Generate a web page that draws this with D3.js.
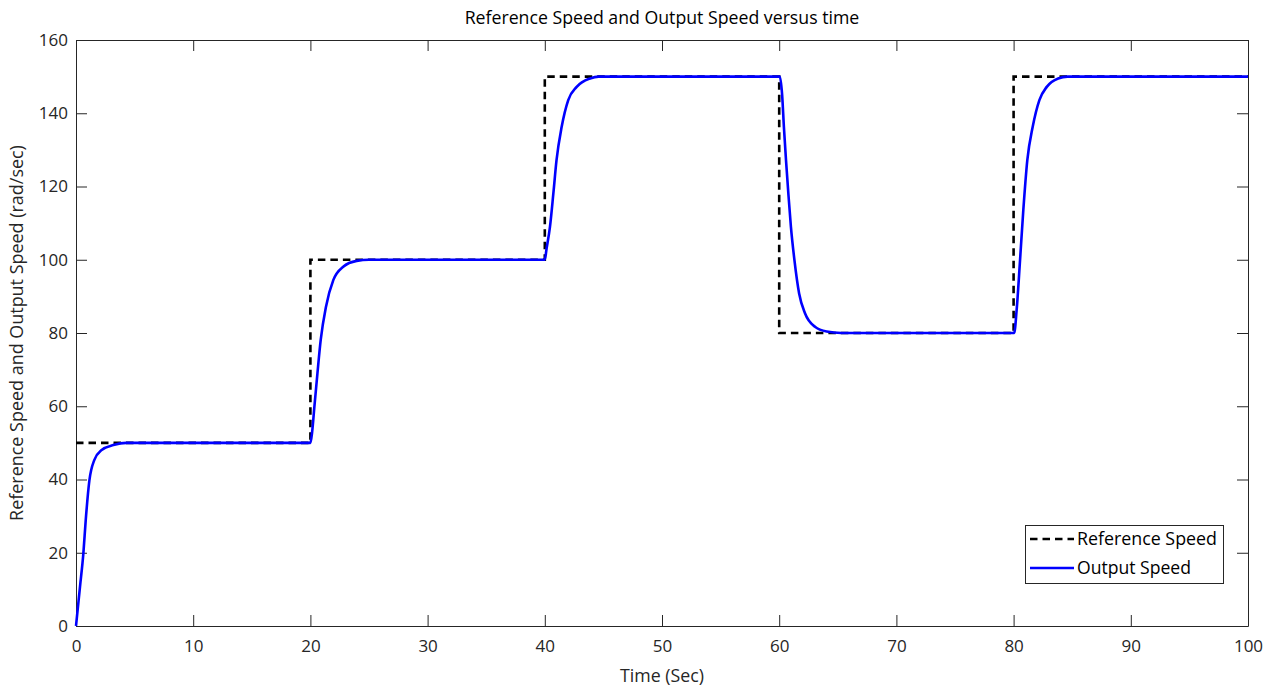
<!DOCTYPE html>
<html>
<head>
<meta charset="utf-8">
<script src="https://cdn.jsdelivr.net/npm/d3@7"></script>
<style>
  html, body { margin: 0; padding: 0; background: #fff; }
  svg { display: block; font-family: "Open Sans", "Noto Sans", sans-serif; }
</style>
</head>
<body>
<svg id="chart" width="1277" height="690"></svg>
<script>
// ---- Data ----
const titleText = "Reference Speed and Output Speed versus time";
const xLabelText = "Time (Sec)";
const yLabelText = "Reference Speed and Output Speed (rad/sec)";
const seriesNames = ["Reference Speed", "Output Speed"];

const xTicks = [0, 10, 20, 30, 40, 50, 60, 70, 80, 90, 100];
const yTicks = [0, 20, 40, 60, 80, 100, 120, 140, 160];

// Reference speed: step changes
const refTimes = [0, 20, 40, 60, 80, 100];
const refValues = [50, 100, 150, 80, 150, 150];

// Output speed samples
const outTimes = [
  0, 0.34, 0.63, 0.83, 1.14, 1.56, 2.19, 3.19, 4.3,
  20.0, 20.15, 20.34, 20.6, 20.88, 21.33, 21.96, 22.8, 23.95, 25,
  40.0, 40.15, 40.44, 40.73, 41.0, 41.44, 42.0, 42.72, 43.86, 44.6,
  60.05, 60.25, 60.4, 60.58, 60.78, 61.0, 61.3, 61.7, 62.2, 63.05, 64.05, 65.3,
  80.05, 80.26, 80.55, 80.83, 81.17, 81.63, 82.2, 82.83, 83.8, 84.6,
  100
];
const outValues = [
  0, 10.7, 19.9, 28.9, 39.7, 45.3, 48.05, 49.4, 50,
  50, 53, 59.9, 69, 78.1, 87.2, 94.5, 98.1, 99.7, 100,
  100, 103, 109, 118.1, 127.2, 136.3, 143.6, 147.2, 149.5, 150,
  150, 145, 136.3, 127.2, 118.1, 109, 99.9, 90.8, 85.4, 81.7, 80.4, 80,
  80, 86.3, 99.9, 113.6, 127.2, 136.3, 143.6, 147.2, 149.5, 150,
  150
];

// ---- Layout ----
const svg = d3.select("#chart");
const L = 76, R = 1248, T = 40, B = 626;
const axisColor = "#262626";

const x = d3.scaleLinear().domain([0, 100]).range([L, R]);
const y = d3.scaleLinear().domain([0, 160]).range([B, T]);

// Axes
function styleAxis(g) {
  g.selectAll("path.domain").attr("stroke", axisColor).attr("stroke-width", 1);
  g.selectAll(".tick line").attr("stroke", axisColor).attr("stroke-width", 1);
  g.selectAll(".tick text").attr("fill", axisColor).style("font-size", "17px")
    .style("font-family", "'Open Sans', sans-serif");
}

svg.append("g").attr("transform", `translate(0,${B})`)
  .call(d3.axisBottom(x).tickValues(xTicks).tickSize(-11).tickSizeOuter(0).tickPadding(14))
  .call(styleAxis);
svg.append("g").attr("transform", `translate(0,${T})`)
  .call(d3.axisTop(x).tickValues(xTicks).tickSize(-11).tickSizeOuter(0).tickFormat(""))
  .call(styleAxis);
svg.append("g").attr("transform", `translate(${L},0)`)
  .call(d3.axisLeft(y).tickValues(yTicks).tickSize(-11).tickSizeOuter(0).tickPadding(8))
  .call(styleAxis);
svg.append("g").attr("transform", `translate(${R},0)`)
  .call(d3.axisRight(y).tickValues(yTicks).tickSize(-11).tickSizeOuter(0).tickFormat(""))
  .call(styleAxis);

// Lines
const refData = refTimes.map((t, i) => ({ t: t, v: refValues[i] }));
const outData = outTimes.map((t, i) => ({ t: t, v: outValues[i] }));

const refLine = d3.line().x(d => x(d.t)).y(d => y(d.v)).curve(d3.curveStepAfter);
const outLine = d3.line().x(d => x(d.t)).y(d => y(d.v)).curve(d3.curveMonotoneX);

svg.append("path").datum(refData)
  .attr("d", refLine)
  .attr("fill", "none").attr("stroke", "#000")
  .attr("stroke-width", 2.6).attr("stroke-dasharray", "7.5,5");

svg.append("path").datum(outData)
  .attr("d", outLine)
  .attr("fill", "none").attr("stroke", "#0000ff")
  .attr("stroke-width", 2.6).attr("stroke-linejoin", "round");

// Text helper: fit to target width
function fit(sel, target, base) {
  sel.style("font-size", base + "px");
  const w = sel.node().getComputedTextLength();
  sel.style("font-size", (base * target / w).toFixed(2) + "px");
}

// Title
const title = svg.append("text").attr("x", (L + R) / 2).attr("y", 24)
  .attr("text-anchor", "middle").attr("fill", "#000").text(titleText);
fit(title, 395, 16);

// X label
const xl = svg.append("text").attr("x", (L + R) / 2).attr("y", 682)
  .attr("text-anchor", "middle").attr("fill", axisColor).text(xLabelText);
fit(xl, 84, 17);

// Y label
const yl = svg.append("text")
  .attr("transform", `translate(23,${(T + B) / 2}) rotate(-90)`)
  .attr("text-anchor", "middle").attr("fill", axisColor).text(yLabelText);
fit(yl, 376, 17);

// Legend
const lg = svg.append("g");
lg.append("rect").attr("x", 1025.5).attr("y", 525.5).attr("width", 198).attr("height", 58)
  .attr("fill", "#fff").attr("stroke", axisColor).attr("stroke-width", 1);
const rows = [
  { name: seriesNames[0], y: 539, stroke: "#000", dash: "7.5,5" },
  { name: seriesNames[1], y: 568, stroke: "#0000ff", dash: null }
];
rows.forEach((r, i) => {
  lg.append("line").attr("x1", 1030).attr("x2", 1074).attr("y1", r.y).attr("y2", r.y)
    .attr("stroke", r.stroke).attr("stroke-width", 2.6)
    .attr("stroke-dasharray", r.dash);
  const t = lg.append("text").attr("x", 1077).attr("y", r.y).attr("dy", "0.35em")
    .attr("fill", "#000").text(r.name);
  fit(t, i === 0 ? 140 : 114, 17);
});
</script>
</body>
</html>
